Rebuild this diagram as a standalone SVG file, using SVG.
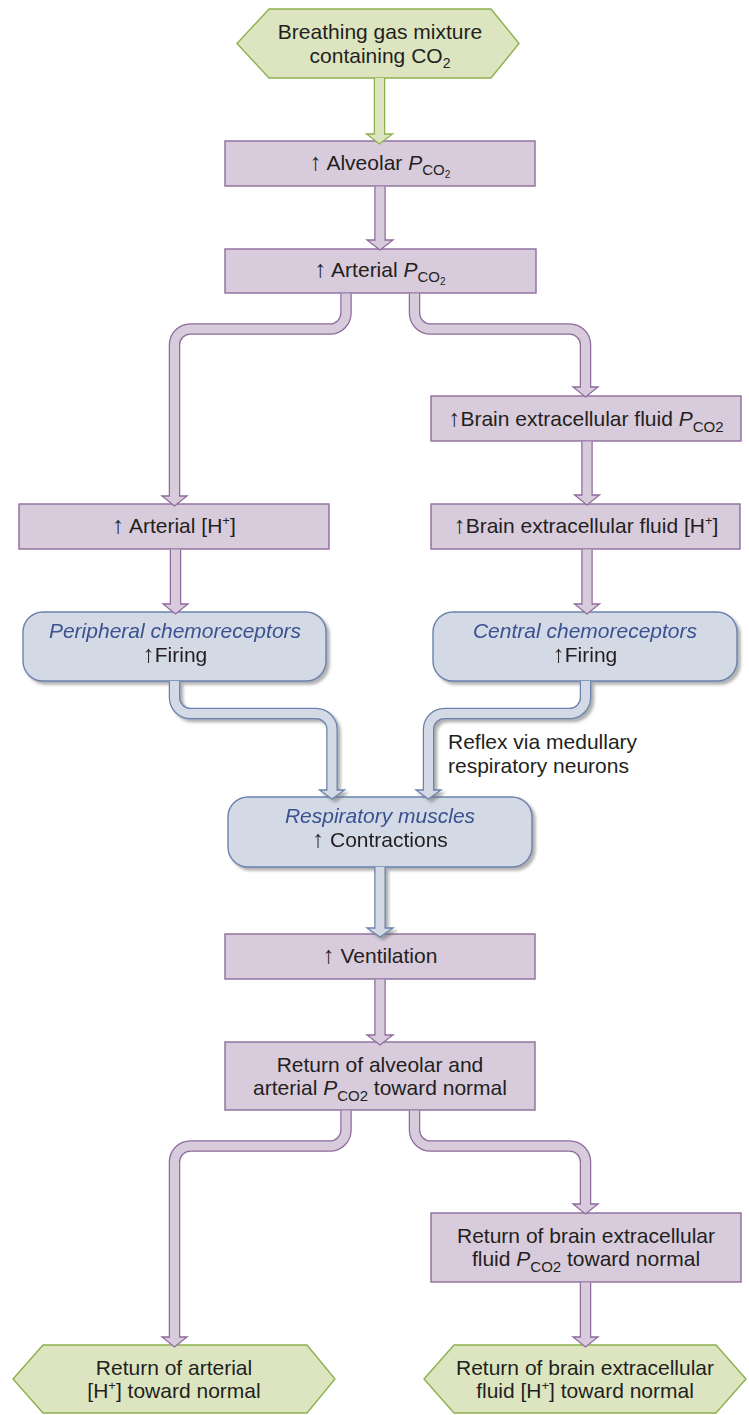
<svg xmlns="http://www.w3.org/2000/svg" width="749" height="1415" viewBox="0 0 749 1415">
  <defs>
    <style>
      text { font-family: "Liberation Sans", Arial, sans-serif; font-size: 21px; fill: #231f20; text-anchor: middle; }
      .it { font-style: italic; }
      .cap { fill: #3a5190; font-style: italic; }
      .ar { font-family: "Liberation Sans", "DejaVu Sans", sans-serif; font-size: 24px; }
      .lbl { text-anchor: start; }
      .box-p { fill: #d8cbdc; stroke: #8e6b9c; stroke-width: 1.4; }
      .box-g { fill: #dce5c0; stroke: #8db04e; stroke-width: 1.4; }
      .box-b { fill: #d3d9e5; stroke: #6b83ae; stroke-width: 1.4; }
      .edge { fill: none; stroke-width: 11.5; }
      .core { fill: none; stroke-width: 9; }
      .head { stroke-width: 1.3; stroke-linejoin: miter; }
      .p .edge { stroke: #8e6b9c; } .p .core { stroke: #d8cbdc; } .p .head { fill: #d8cbdc; stroke: #8e6b9c; }
      .g .edge { stroke: #8db04e; } .g .core { stroke: #dce5c0; } .g .head { fill: #dce5c0; stroke: #8db04e; }
      .b .edge { stroke: #6b83ae; } .b .core { stroke: #d3d9e5; } .b .head { fill: #d3d9e5; stroke: #6b83ae; }
    </style>
    <filter id="shadow" x="-10%" y="-10%" width="130%" height="140%">
      <feDropShadow dx="3" dy="3" stdDeviation="1.6" flood-color="#6e6e6e" flood-opacity="0.55"/>
    </filter>
  </defs>

  <rect width="749" height="1415" fill="#ffffff"/>

  <!-- nodes -->
  <g id="gas-mixture">
    <polygon class="box-g" points="237,43.5 269,9 491,9 519,43.5 491,78 269,78"/>
    <text x="380" y="39">Breathing gas mixture</text>
    <text x="380" y="63">containing CO<tspan font-size="14" dy="5">2</tspan></text>
  </g>

  <g id="alveolar-pco2">
    <rect class="box-p" x="225" y="141" width="310" height="45"/>
    <text x="380" y="170"><tspan class="ar">↑</tspan> Alveolar <tspan class="it">P</tspan><tspan font-size="15" dy="5">CO</tspan><tspan font-size="10" dy="3">2</tspan></text>
  </g>

  <g id="arterial-pco2">
    <rect class="box-p" x="225" y="249" width="311" height="44"/>
    <text x="380" y="277"><tspan class="ar">↑</tspan> Arterial <tspan class="it">P</tspan><tspan font-size="15" dy="5">CO</tspan><tspan font-size="10" dy="3">2</tspan></text>
  </g>

  <g id="brain-ecf-pco2">
    <rect class="box-p" x="431" y="396" width="310" height="45"/>
    <text x="586" y="426"><tspan class="ar">↑</tspan>Brain extracellular fluid <tspan class="it">P</tspan><tspan font-size="15" dy="6">CO2</tspan></text>
  </g>

  <g id="arterial-h">
    <rect class="box-p" x="19" y="504" width="310" height="45"/>
    <text x="174" y="533"><tspan class="ar">↑</tspan> Arterial [H<tspan font-size="13" dy="-8">+</tspan><tspan dy="8">]</tspan></text>
  </g>

  <g id="brain-ecf-h">
    <rect class="box-p" x="431" y="504" width="309" height="45"/>
    <text x="586" y="533"><tspan class="ar">↑</tspan>Brain extracellular fluid [H<tspan font-size="13" dy="-8">+</tspan><tspan dy="8">]</tspan></text>
  </g>

  <g id="peripheral-chemoreceptors" filter="url(#shadow)">
    <rect class="box-b" x="23" y="612" width="303" height="69" rx="20"/>
    <text x="175" y="638" class="cap">Peripheral chemoreceptors</text>
    <text x="175" y="662"><tspan class="ar">↑</tspan>Firing</text>
  </g>

  <g id="central-chemoreceptors" filter="url(#shadow)">
    <rect class="box-b" x="433" y="612" width="304" height="69" rx="20"/>
    <text x="585" y="638" class="cap">Central chemoreceptors</text>
    <text x="585" y="662"><tspan class="ar">↑</tspan>Firing</text>
  </g>

  <g id="respiratory-muscles" filter="url(#shadow)">
    <rect class="box-b" x="228" y="797" width="304" height="70" rx="20"/>
    <text x="380" y="823" class="cap">Respiratory muscles</text>
    <text x="380" y="847"><tspan class="ar">↑</tspan> Contractions</text>
  </g>

  <g id="ventilation">
    <rect class="box-p" x="225" y="934" width="310" height="45"/>
    <text x="380" y="963"><tspan class="ar">↑</tspan> Ventilation</text>
  </g>

  <g id="return-arterial-pco2">
    <rect class="box-p" x="225" y="1042" width="310" height="68"/>
    <text x="380" y="1072">Return of alveolar and</text>
    <text x="380" y="1095">arterial <tspan class="it">P</tspan><tspan font-size="15" dy="6">CO2</tspan><tspan dy="-6"> toward normal</tspan></text>
  </g>

  <g id="return-brain-pco2">
    <rect class="box-p" x="431" y="1213" width="310" height="69"/>
    <text x="586" y="1243">Return of brain extracellular</text>
    <text x="586" y="1266">fluid <tspan class="it">P</tspan><tspan font-size="15" dy="6">CO2</tspan><tspan dy="-6"> toward normal</tspan></text>
  </g>

  <g id="return-arterial-h">
    <polygon class="box-g" points="13,1379 43,1345 307,1345 335,1379 307,1413 43,1413"/>
    <text x="174" y="1375">Return of arterial</text>
    <text x="174" y="1398">[H<tspan font-size="13" dy="-8">+</tspan><tspan dy="8">] toward normal</tspan></text>
  </g>

  <g id="return-brain-h">
    <polygon class="box-g" points="424,1379 454,1345 716,1345 746,1379 716,1413 454,1413"/>
    <text x="585" y="1375">Return of brain extracellular</text>
    <text x="585" y="1398">fluid [H<tspan font-size="13" dy="-8">+</tspan><tspan dy="8">] toward normal</tspan></text>
  </g>

  <!-- connectors: outline stroke, fill stroke, arrowhead -->
  <g id="connectors">
    <g class="g">
      <polygon class="head" points="366.5,134 392.5,134 379.5,144"/>
      <path class="edge" d="M379.5,78 V134"/>
      <path class="core" d="M379.5,78 V135.5"/>
    </g>
    <g class="p">
      <polygon class="head" points="367,240 393,240 380,250"/>
      <path class="edge" d="M380,186.5 V240"/>
      <path class="core" d="M380,186.5 V241.5"/>
    </g>
    <g class="p">
      <polygon class="head" points="162,496 187,496 174.5,506"/>
      <path class="edge" d="M346,293.5 V313 A16,16 0 0 1 330,329 H190.5 A16,16 0 0 0 174.5,345 V496"/>
      <path class="core" d="M346,293.5 V313 A16,16 0 0 1 330,329 H190.5 A16,16 0 0 0 174.5,345 V497.5"/>
    </g>
    <g class="p">
      <polygon class="head" points="573,387 598,387 585.5,397"/>
      <path class="edge" d="M414.5,293.5 V313 A16,16 0 0 0 430.5,329 H569.5 A16,16 0 0 1 585.5,345 V387"/>
      <path class="core" d="M414.5,293.5 V313 A16,16 0 0 0 430.5,329 H569.5 A16,16 0 0 1 585.5,345 V388.5"/>
    </g>
    <g class="p">
      <polygon class="head" points="574.5,495 599.5,495 587,505"/>
      <path class="edge" d="M587,441.5 V495"/>
      <path class="core" d="M587,441.5 V496.5"/>
    </g>
    <g class="p">
      <polygon class="head" points="163,604 188,604 175.5,614"/>
      <path class="edge" d="M175.5,549.5 V604"/>
      <path class="core" d="M175.5,549.5 V605.5"/>
    </g>
    <g class="p">
      <polygon class="head" points="574.5,604 599.5,604 587,614"/>
      <path class="edge" d="M587,549.5 V604"/>
      <path class="core" d="M587,549.5 V605.5"/>
    </g>
    <g class="b" filter="url(#shadow)">
      <polygon class="head" points="319.5,790 344.5,790 332,799"/>
      <path class="edge" d="M174.5,681.5 V697.5 A16,16 0 0 0 190.5,713.5 H316 A16,16 0 0 1 332,729.5 V790"/>
      <path class="core" d="M174.5,681 V697.5 A16,16 0 0 0 190.5,713.5 H316 A16,16 0 0 1 332,729.5 V791.5"/>
    </g>
    <g class="b" filter="url(#shadow)">
      <polygon class="head" points="416,790 441,790 428.5,799"/>
      <path class="edge" d="M585.5,681.5 V697.5 A16,16 0 0 1 569.5,713.5 H444.5 A16,16 0 0 0 428.5,729.5 V790"/>
      <path class="core" d="M585.5,681 V697.5 A16,16 0 0 1 569.5,713.5 H444.5 A16,16 0 0 0 428.5,729.5 V791.5"/>
    </g>
    <g class="b" filter="url(#shadow)">
      <polygon class="head" points="367,928 393,928 380,937"/>
      <path class="edge" d="M380,867.5 V928"/>
      <path class="core" d="M380,867 V929.5"/>
    </g>
    <g class="p">
      <polygon class="head" points="367,1035 393,1035 380,1045"/>
      <path class="edge" d="M380,979.5 V1035"/>
      <path class="core" d="M380,979.5 V1036.5"/>
    </g>
    <g class="p">
      <polygon class="head" points="162,1337 187,1337 174.5,1347"/>
      <path class="edge" d="M346,1110.5 V1130 A16,16 0 0 1 330,1146 H190.5 A16,16 0 0 0 174.5,1162 V1337"/>
      <path class="core" d="M346,1110.5 V1130 A16,16 0 0 1 330,1146 H190.5 A16,16 0 0 0 174.5,1162 V1338.5"/>
    </g>
    <g class="p">
      <polygon class="head" points="573,1204 598,1204 585.5,1214"/>
      <path class="edge" d="M414.5,1110.5 V1130 A16,16 0 0 0 430.5,1146 H569.5 A16,16 0 0 1 585.5,1162 V1204"/>
      <path class="core" d="M414.5,1110.5 V1130 A16,16 0 0 0 430.5,1146 H569.5 A16,16 0 0 1 585.5,1162 V1205.5"/>
    </g>
    <g class="p">
      <polygon class="head" points="573,1337 598,1337 585.5,1347"/>
      <path class="edge" d="M585.5,1282.5 V1337"/>
      <path class="core" d="M585.5,1282.5 V1338.5"/>
    </g>
  </g>

  <g id="reflex-label">
    <text x="448" y="749" class="lbl">Reflex via medullary</text>
    <text x="448" y="773" class="lbl">respiratory neurons</text>
  </g>
</svg>
